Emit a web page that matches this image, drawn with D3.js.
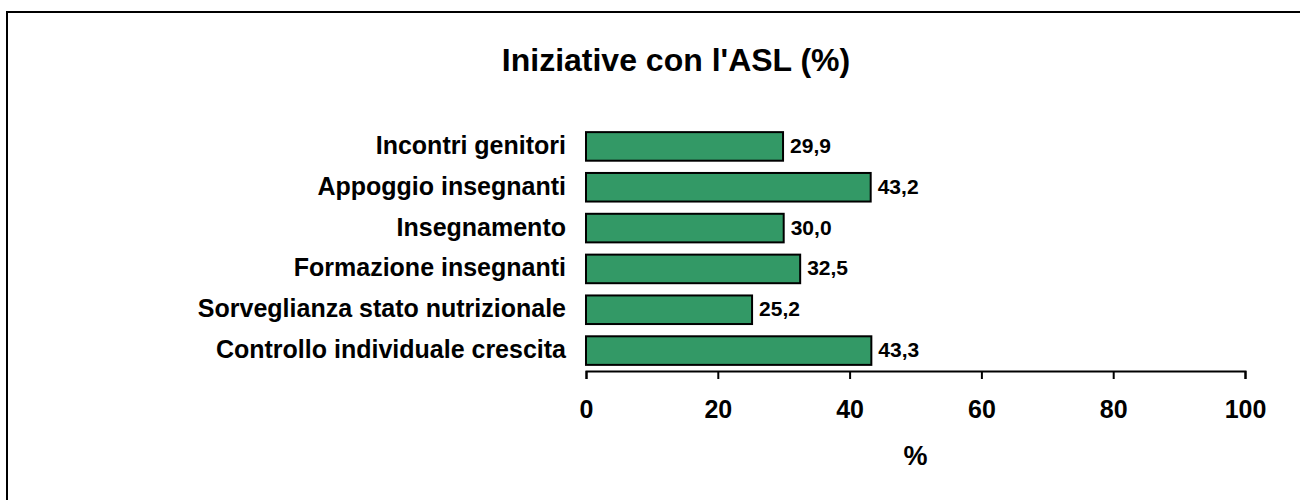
<!DOCTYPE html>
<html><head><meta charset="utf-8">
<script src="https://cdn.jsdelivr.net/npm/d3@7"></script>
<style>body{margin:0;background:#fff}svg{display:block}text{font-family:"Liberation Sans",Arial,sans-serif;font-weight:bold;fill:#000}</style>
</head><body>
<script>
const categories = ["Incontri genitori","Appoggio insegnanti","Insegnamento","Formazione insegnanti","Sorveglianza stato nutrizionale","Controllo individuale crescita"];
const values = [29.9, 43.2, 30.0, 32.5, 25.2, 43.3];
const valueLabels = ["29,9","43,2","30,0","32,5","25,2","43,3"];
const ticks = [0,20,40,60,80,100];
const title = "Iniziative con l'ASL (%)";
const xTitle = "%";

const W=1300,H=500;
const svg=d3.select("body").append("svg").attr("width",W).attr("height",H);
svg.append("rect").attr("x",7).attr("y",12).attr("width",1310).attr("height",500).attr("fill","none").attr("stroke","#000").attr("stroke-width",2);

const x=d3.scaleLinear().domain([0,100]).range([586,1245]);
const y=d3.scaleBand().domain(categories).range([126,371]).paddingInner(0.3).paddingOuter(0.15);

svg.append("text").attr("x",676).attr("y",71).attr("text-anchor","middle").style("font-size","32px").text(title);

svg.selectAll("rect.bar").data(categories).enter().append("rect").attr("class","bar")
 .attr("x",x(0)).attr("y",d=>y(d)).attr("width",(d,i)=>x(values[i])-x(0)).attr("height",y.bandwidth())
 .attr("fill","#339966").attr("stroke","#000").attr("stroke-width",2);

svg.selectAll("text.cat").data(categories).enter().append("text").attr("class","cat")
 .attr("x",566).attr("y",d=>y(d)+y.bandwidth()/2+7.5).attr("text-anchor","end").style("font-size","25px").text(d=>d);

svg.selectAll("text.val").data(categories).enter().append("text").attr("class","val")
 .attr("x",(d,i)=>x(values[i])+7).attr("y",d=>y(d)+y.bandwidth()/2+6.5).style("font-size","21px").text((d,i)=>valueLabels[i]);

const ax=svg.append("g").attr("transform","translate(0,371)").call(d3.axisBottom(x).tickValues(ticks).tickSize(8).tickSizeOuter(8));
ax.select(".domain").attr("stroke","#000").attr("stroke-width",2);
ax.selectAll(".tick line").attr("stroke","#000").attr("stroke-width",2);
ax.selectAll(".tick text").attr("y",47).attr("dy",null)
  .style("font-size","25px").style("font-family","'Liberation Sans',Arial,sans-serif").style("font-weight","bold").attr("fill","#000");

svg.append("text").attr("x",x(50)).attr("y",465).attr("text-anchor","middle").style("font-size","27px").text(xTitle);
</script>
</body></html>
